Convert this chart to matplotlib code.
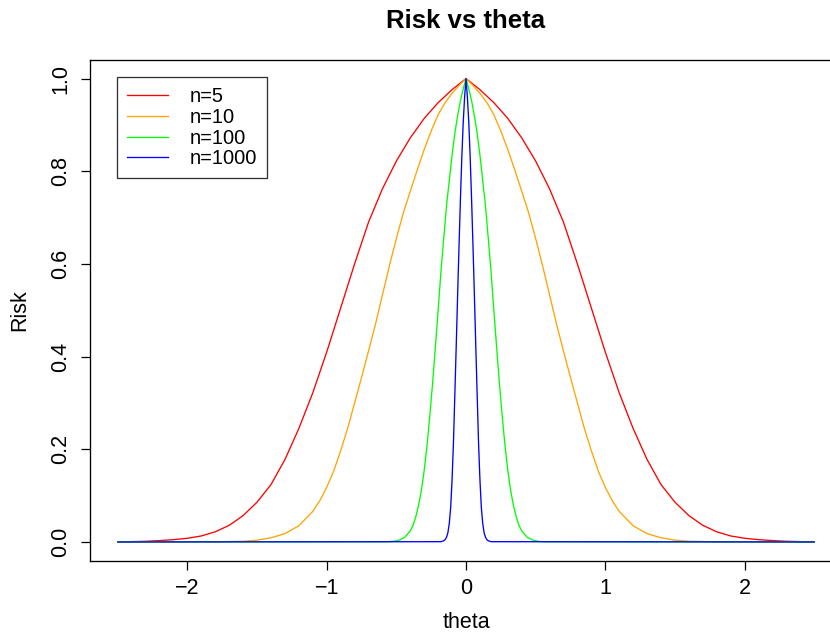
import matplotlib
matplotlib.use("Agg")
from matplotlib import pyplot as plt

plt.rcParams['font.family'] = ['Liberation Sans', 'DejaVu Sans']

# values (curves are symmetric about theta = 0)
theta_5 = [-2.5, -2.4, -2.3, -2.2, -2.1, -2.0, -1.9, -1.8, -1.7, -1.6, -1.5, -1.4, -1.3,
           -1.2, -1.1, -1.0, -0.9, -0.8, -0.7, -0.6, -0.5, -0.4, -0.3, -0.2, -0.1, 0.0,
           0.1, 0.2, 0.3, 0.4, 0.5, 0.6, 0.7, 0.8, 0.9, 1.0, 1.1, 1.2, 1.3,
           1.4, 1.5, 1.6, 1.7, 1.8, 1.9, 2.0, 2.1, 2.2, 2.3, 2.4, 2.5]
risk_5 = [0.0003, 0.0007, 0.0015, 0.003, 0.005, 0.008, 0.013, 0.022, 0.036, 0.057, 0.086,
          0.124, 0.178, 0.245, 0.322, 0.410, 0.505, 0.600, 0.690, 0.762, 0.822, 0.872,
          0.914, 0.948, 0.976, 1.0,
          0.976, 0.948, 0.914, 0.872, 0.822, 0.762, 0.690, 0.600, 0.505, 0.410, 0.322,
          0.245, 0.178, 0.124, 0.086, 0.057, 0.036, 0.022, 0.013, 0.008, 0.005, 0.003,
          0.0015, 0.0007, 0.0003]

theta_10 = [-2.5, -1.8, -1.6, -1.5, -1.4, -1.3, -1.2, -1.1, -1.05, -1.0, -0.95, -0.9,
            -0.85, -0.8, -0.75, -0.7, -0.65, -0.6, -0.55, -0.5, -0.45, -0.4, -0.35, -0.3,
            -0.25, -0.2, -0.15, -0.1, -0.05, 0.0,
            0.05, 0.1, 0.15, 0.2, 0.25, 0.3, 0.35, 0.4, 0.45, 0.5, 0.55, 0.6, 0.65, 0.7,
            0.75, 0.8, 0.85, 0.9, 0.95, 1.0, 1.05, 1.1, 1.2, 1.3, 1.4, 1.5, 1.6, 1.8, 2.5]
risk_10 = [0.0, 0.0003, 0.0015, 0.004, 0.009, 0.018, 0.035, 0.066, 0.089, 0.118, 0.153,
           0.197, 0.245, 0.300, 0.355, 0.412, 0.470, 0.533, 0.596, 0.655, 0.710, 0.757,
           0.803, 0.847, 0.887, 0.922, 0.948, 0.968, 0.985, 1.0,
           0.985, 0.968, 0.948, 0.922, 0.887, 0.847, 0.803, 0.757, 0.710, 0.655, 0.596,
           0.533, 0.470, 0.412, 0.355, 0.300, 0.245, 0.197, 0.153, 0.118, 0.089, 0.066,
           0.035, 0.018, 0.009, 0.004, 0.0015, 0.0003, 0.0]

theta_100 = [-2.5, -0.56, -0.52, -0.48, -0.44, -0.40, -0.38, -0.36, -0.34, -0.32, -0.30,
             -0.28, -0.26, -0.24, -0.22, -0.20, -0.18, -0.16, -0.14, -0.12, -0.10, -0.08,
             -0.06, -0.04, -0.02, 0.0,
             0.02, 0.04, 0.06, 0.08, 0.10, 0.12, 0.14, 0.16, 0.18, 0.20, 0.22, 0.24,
             0.26, 0.28, 0.30, 0.32, 0.34, 0.36, 0.38, 0.40, 0.44, 0.48, 0.52, 0.56, 2.5]
risk_100 = [0.0, 0.0004, 0.0013, 0.004, 0.010, 0.024, 0.036, 0.055, 0.080, 0.112, 0.155,
            0.208, 0.272, 0.342, 0.420, 0.500, 0.583, 0.655, 0.725, 0.780, 0.835, 0.882,
            0.920, 0.952, 0.978, 1.0,
            0.978, 0.952, 0.920, 0.882, 0.835, 0.780, 0.725, 0.655, 0.583, 0.500, 0.420,
            0.342, 0.272, 0.208, 0.155, 0.112, 0.080, 0.055, 0.036, 0.024, 0.010, 0.004,
            0.0013, 0.0004, 0.0]

theta_1000 = [-2.5, -0.18, -0.16, -0.15, -0.14, -0.13, -0.12, -0.11, -0.10, -0.09, -0.08,
              -0.07, -0.06, -0.05, -0.04, -0.03, -0.02, -0.01, 0.0,
              0.01, 0.02, 0.03, 0.04, 0.05, 0.06, 0.07, 0.08, 0.09, 0.10, 0.11, 0.12,
              0.13, 0.14, 0.15, 0.16, 0.18, 2.5]
risk_1000 = [0.0, 0.0006, 0.0025, 0.005, 0.010, 0.020, 0.040, 0.075, 0.135, 0.215, 0.320,
             0.425, 0.535, 0.640, 0.740, 0.830, 0.905, 0.960, 1.0,
             0.960, 0.905, 0.830, 0.740, 0.640, 0.535, 0.425, 0.320, 0.215, 0.135, 0.075,
             0.040, 0.020, 0.010, 0.005, 0.0025, 0.0006, 0.0]

labels = ["n=5", "n=10", "n=100", "n=1000"]
colors = ["red", "orange", "#00ff00", "blue"]

fig = plt.figure(figsize=(8.3, 6.36), dpi=100)
W, H = 830.0, 636.0
ax = fig.add_axes([90 / W, (H - 560.5) / H, (842 - 90) / W, (560.5 - 60) / H])

series = [(theta_5, risk_5), (theta_10, risk_10), (theta_100, risk_100), (theta_1000, risk_1000)]
for (x, y), lab, c in zip(series, labels, colors):
    ax.plot(x, y, color=c, lw=0.95, label=lab)

ax.set_xlim(-2.7, 2.7)
ax.set_ylim(-0.04, 1.04)
ax.set_xticks([-2, -1, 0, 1, 2])
ax.set_yticks([0.0, 0.2, 0.4, 0.6, 0.8, 1.0])
ax.set_yticklabels(["0.0", "0.2", "0.4", "0.6", "0.8", "1.0"])
ax.tick_params(direction='out', length=6.5, width=0.9, labelsize=15.5)
ax.tick_params(axis='x', pad=6)
ax.tick_params(axis='y', pad=7, labelrotation=90)
for t in ax.get_yticklabels():
    t.set_va('center')
for s in ax.spines.values():
    s.set_linewidth(0.95)

fig.text(466 / W, 1 - 21 / H, "Risk vs theta", ha='center', va='center',
         fontsize=18.5, fontweight='bold')
fig.text(466 / W, 1 - 623 / H, "theta", ha='center', va='center', fontsize=15.5)
fig.text(20 / W, 1 - 310 / H, "Risk", ha='center', va='center', fontsize=15.5, rotation=90)

leg = ax.legend(loc='upper left', bbox_to_anchor=(117.3 / W, 1 - 77.3 / H),
                bbox_transform=fig.transFigure, fontsize=14.5, frameon=True,
                fancybox=False, edgecolor='black', borderpad=0.5, labelspacing=0.08,
                handlelength=2.0, handletextpad=1.1, borderaxespad=0)
leg.get_frame().set_linewidth(0.95)

plt.savefig('out.png', format='png')
